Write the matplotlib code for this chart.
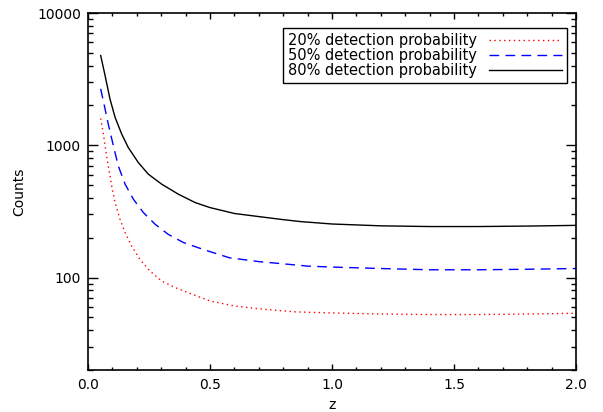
import numpy as np
import matplotlib
matplotlib.use('Agg')
import matplotlib.pyplot as plt
from matplotlib.ticker import FixedLocator, NullFormatter, MultipleLocator, FormatStrFormatter

# counts vs redshift, one set of points per curve
z20 = [0.052, 0.063, 0.074, 0.083, 0.097, 0.111, 0.131, 0.152, 0.179, 0.213,
       0.254, 0.302, 0.357, 0.425, 0.5, 0.6, 0.7, 0.85, 1.0, 1.2, 1.4, 1.6, 1.8, 2.0]
counts20 = [1596, 1216, 883, 700, 493, 369, 276, 219, 173, 137,
            112, 94, 84, 75, 66.5, 61, 58, 55, 54, 53, 52.5, 52.5, 53, 53.7]

z50 = [0.052, 0.07, 0.083, 0.104, 0.124, 0.152, 0.186, 0.227, 0.275, 0.329,
       0.391, 0.452, 0.5, 0.58, 0.7, 0.8, 0.9, 1.0, 1.2, 1.4, 1.6, 1.8, 2.0]
counts50 = [2670, 1880, 1446, 991, 699, 508, 391, 310, 253, 212,
            184, 168, 157, 141, 132, 127, 122, 120, 117, 114.5, 114.5, 115.5, 117]

z80 = [0.052, 0.07, 0.09, 0.111, 0.138, 0.165, 0.206, 0.247, 0.302, 0.37,
       0.439, 0.5, 0.6, 0.7, 0.8, 0.87, 1.0, 1.2, 1.4, 1.6, 1.8, 2.0]
counts80 = [4770, 3365, 2240, 1626, 1216, 962, 741, 605, 508, 427,
            369, 338, 305, 289, 274, 265, 254, 246, 243, 243, 245, 248]

labels = ['20% detection probability', '50% detection probability',
          '80% detection probability']

plt.rcParams['font.family'] = 'DejaVu Sans'
plt.rcParams['font.size'] = 10

fig = plt.figure(figsize=(6.03, 4.12), dpi=100)
ax = fig.add_axes([88/603, 1 - 370/412, (576-88)/603, (370-13)/412])

ax.plot(z20, counts20, color='red', lw=1.0, dashes=(1, 2.5), label=labels[0])
ax.plot(z50, counts50, color='blue', lw=1.0, dashes=(7, 4.5), label=labels[1])
ax.plot(z80, counts80, color='black', lw=1.0, label=labels[2])

ax.set_yscale('log')
ax.set_xlim(0, 2.0)
ax.set_ylim(20, 10000)

ax.xaxis.set_major_locator(MultipleLocator(0.5))
ax.xaxis.set_minor_locator(MultipleLocator(0.1))
ax.xaxis.set_major_formatter(FormatStrFormatter('%.1f'))
ax.yaxis.set_major_locator(FixedLocator([100, 1000, 10000]))
ax.yaxis.set_major_formatter(FormatStrFormatter('%d'))
minors = [m * 10**e for e in (1, 2, 3) for m in range(2, 10)]
ax.yaxis.set_minor_locator(FixedLocator([v for v in minors if v >= 20]))
ax.yaxis.set_minor_formatter(NullFormatter())

ax.tick_params(which='both', direction='in', top=True, right=True, width=1)
ax.tick_params(axis='x', which='major', length=4.5, pad=6)
ax.tick_params(axis='x', which='minor', length=2.3)
ax.tick_params(axis='y', which='major', length=7.5, pad=5)
ax.tick_params(axis='y', which='minor', length=3.8)
for s in ax.spines.values():
    s.set_linewidth(1.2)

ax.set_xlabel('z', labelpad=4)
ax.set_ylabel('Counts', labelpad=8)

leg = ax.legend(loc='upper right', bbox_to_anchor=(567/603, 1 - 28/412),
                bbox_transform=fig.transFigure, markerfirst=False,
                fancybox=False, edgecolor='black', framealpha=1,
                fontsize=10.5, handlelength=5.0, handletextpad=0.8,
                labelspacing=0.0, borderpad=0.35, borderaxespad=0)
leg.get_frame().set_linewidth(1.0)

fig.savefig('out.png', dpi=100)
